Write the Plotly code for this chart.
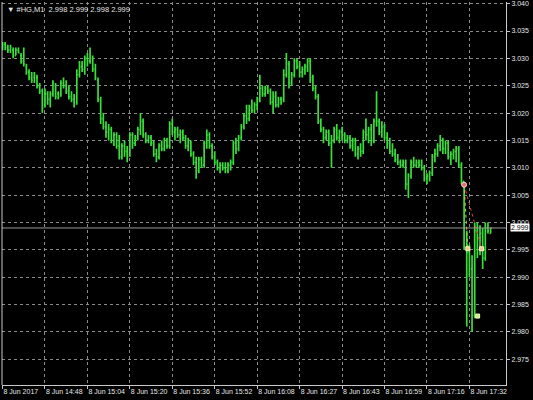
import plotly.graph_objects as go

# ---------------- data ----------------
symbol_header = "\u25bc #HG,M1  2.998 2.999 2.998 2.999"

opens = [3.0320,3.0325,3.0320,3.0315,3.0315,3.0305,3.0315,3.0305,3.0295,3.0285,
         3.0275,3.0265,3.0265,3.0265,3.0250,3.0240,3.0215,3.0235,3.0225,3.0235,
         3.0250,3.0235,3.0235,3.0255,3.0250,3.0240,3.0230,3.0225,3.0220,3.0270,
         3.0285,3.0280,3.0300,3.0295,3.0300,3.0280,3.0260,3.0225,3.0190,3.0175,
         3.0165,3.0170,3.0150,3.0160,3.0140,3.0120,3.0140,3.0130,3.0125,3.0160,
         3.0145,3.0155,3.0170,3.0185,3.0160,3.0150,3.0155,3.0145,3.0125,3.0120,
         3.0140,3.0135,3.0150,3.0140,3.0180,3.0165,3.0170,3.0160,3.0165,3.0155,
         3.0140,3.0145,3.0125,3.0110,3.0095,3.0115,3.0105,3.0145,3.0160,3.0140,
         3.0120,3.0110,3.0100,3.0105,3.0100,3.0095,3.0105,3.0110,3.0145,3.0135,
         3.0155,3.0175,3.0195,3.0190,3.0210,3.0205,3.0215,3.0225,3.0245,3.0235,
         3.0245,3.0240,3.0220,3.0230,3.0215,3.0225,3.0225,3.0270,3.0290,3.0255,
         3.0270,3.0295,3.0285,3.0275,3.0280,3.0285,3.0295,3.0265,3.0245,3.0230,
         3.0185,3.0170,3.0155,3.0165,3.0145,3.0150,3.0170,3.0155,3.0165,3.0160,
         3.0150,3.0155,3.0140,3.0150,3.0125,3.0135,3.0130,3.0165,3.0160,3.0170,
         3.0150,3.0185,3.0185,3.0165,3.0175,3.0155,3.0145,3.0130,3.0125,3.0115,
         3.0110,3.0105,3.0110,3.0070,3.0085,3.0110,3.0105,3.0110,3.0105,3.0100,
         3.0080,3.0085,3.0090,3.0120,3.0125,3.0140,3.0150,3.0135,3.0145,3.0120,
         3.0125,3.0130,3.0135,3.0105,3.0075,2.9955,2.9945,2.9915,2.9830,2.9985,
         2.9950,2.9980,2.9935,2.9990,2.9980]

highs = [3.0330,3.0330,3.0325,3.0325,3.0320,3.0320,3.0320,3.0310,3.0320,3.0290,
         3.0280,3.0275,3.0275,3.0270,3.0255,3.0245,3.0245,3.0240,3.0240,3.0260,
         3.0255,3.0240,3.0260,3.0265,3.0260,3.0250,3.0240,3.0235,3.0280,3.0295,
         3.0295,3.0305,3.0310,3.0320,3.0305,3.0290,3.0265,3.0230,3.0200,3.0185,
         3.0180,3.0175,3.0165,3.0165,3.0160,3.0145,3.0150,3.0140,3.0165,3.0165,
         3.0160,3.0175,3.0200,3.0190,3.0165,3.0160,3.0160,3.0150,3.0135,3.0145,
         3.0150,3.0155,3.0155,3.0185,3.0190,3.0175,3.0175,3.0170,3.0170,3.0160,
         3.0155,3.0150,3.0130,3.0120,3.0120,3.0120,3.0150,3.0170,3.0165,3.0145,
         3.0130,3.0115,3.0110,3.0110,3.0110,3.0110,3.0115,3.0150,3.0155,3.0160,
         3.0180,3.0200,3.0215,3.0215,3.0225,3.0220,3.0230,3.0270,3.0250,3.0250,
         3.0250,3.0245,3.0240,3.0240,3.0230,3.0230,3.0280,3.0310,3.0295,3.0275,
         3.0300,3.0300,3.0295,3.0285,3.0290,3.0300,3.0300,3.0270,3.0250,3.0235,
         3.0190,3.0175,3.0170,3.0170,3.0160,3.0175,3.0180,3.0170,3.0175,3.0165,
         3.0160,3.0160,3.0155,3.0155,3.0140,3.0145,3.0170,3.0190,3.0175,3.0180,
         3.0190,3.0240,3.0190,3.0185,3.0180,3.0165,3.0155,3.0145,3.0135,3.0125,
         3.0115,3.0115,3.0115,3.0090,3.0115,3.0120,3.0115,3.0115,3.0115,3.0105,
         3.0090,3.0095,3.0125,3.0135,3.0145,3.0160,3.0155,3.0150,3.0150,3.0130,
         3.0135,3.0140,3.0140,3.0110,3.0075,2.9985,2.9960,2.9940,3.0000,3.0000,
         2.9995,2.9990,3.0000,3.0000,2.9990]

lows = [3.0315,3.0315,3.0310,3.0310,3.0300,3.0305,3.0310,3.0290,3.0285,3.0270,
        3.0260,3.0255,3.0255,3.0245,3.0235,3.0200,3.0210,3.0215,3.0210,3.0230,
        3.0225,3.0225,3.0230,3.0245,3.0235,3.0225,3.0220,3.0210,3.0215,3.0265,
        3.0275,3.0270,3.0285,3.0290,3.0275,3.0260,3.0220,3.0180,3.0170,3.0155,
        3.0150,3.0145,3.0140,3.0135,3.0115,3.0115,3.0120,3.0110,3.0120,3.0135,
        3.0140,3.0150,3.0160,3.0155,3.0145,3.0145,3.0140,3.0120,3.0110,3.0115,
        3.0130,3.0130,3.0135,3.0135,3.0160,3.0150,3.0155,3.0145,3.0150,3.0135,
        3.0130,3.0120,3.0105,3.0080,3.0090,3.0100,3.0100,3.0135,3.0135,3.0115,
        3.0105,3.0095,3.0090,3.0095,3.0090,3.0090,3.0095,3.0105,3.0125,3.0130,
        3.0150,3.0170,3.0180,3.0185,3.0200,3.0200,3.0205,3.0220,3.0230,3.0230,
        3.0235,3.0215,3.0200,3.0210,3.0210,3.0215,3.0220,3.0265,3.0245,3.0250,
        3.0265,3.0280,3.0265,3.0265,3.0270,3.0275,3.0255,3.0240,3.0225,3.0180,
        3.0165,3.0145,3.0150,3.0140,3.0100,3.0145,3.0150,3.0145,3.0150,3.0145,
        3.0145,3.0135,3.0130,3.0120,3.0115,3.0120,3.0125,3.0150,3.0145,3.0140,
        3.0145,3.0175,3.0160,3.0155,3.0150,3.0135,3.0125,3.0120,3.0110,3.0105,
        3.0100,3.0100,3.0060,3.0045,3.0080,3.0100,3.0100,3.0100,3.0095,3.0075,
        3.0070,3.0075,3.0085,3.0110,3.0120,3.0130,3.0125,3.0125,3.0115,3.0105,
        3.0115,3.0110,3.0100,3.0070,2.9950,2.9810,2.9900,2.9800,2.9825,2.9935,
        2.9940,2.9915,2.9930,2.9980,2.9980]

closes = [3.0325,3.0320,3.0315,3.0320,3.0305,3.0315,3.0310,3.0295,3.0290,3.0275,
          3.0265,3.0260,3.0270,3.0250,3.0240,3.0210,3.0235,3.0225,3.0235,3.0255,
          3.0230,3.0230,3.0255,3.0250,3.0240,3.0230,3.0225,3.0215,3.0270,3.0285,
          3.0280,3.0300,3.0295,3.0305,3.0280,3.0265,3.0225,3.0190,3.0175,3.0165,
          3.0170,3.0150,3.0160,3.0140,3.0120,3.0140,3.0130,3.0120,3.0160,3.0145,
          3.0155,3.0170,3.0185,3.0160,3.0150,3.0155,3.0145,3.0125,3.0120,3.0140,
          3.0135,3.0150,3.0140,3.0180,3.0165,3.0170,3.0160,3.0165,3.0155,3.0140,
          3.0150,3.0125,3.0110,3.0095,3.0115,3.0105,3.0145,3.0160,3.0140,3.0120,
          3.0110,3.0100,3.0105,3.0100,3.0095,3.0105,3.0110,3.0145,3.0135,3.0155,
          3.0175,3.0195,3.0190,3.0210,3.0205,3.0215,3.0225,3.0245,3.0235,3.0245,
          3.0240,3.0220,3.0230,3.0215,3.0225,3.0220,3.0270,3.0290,3.0255,3.0270,
          3.0295,3.0285,3.0275,3.0280,3.0285,3.0295,3.0265,3.0245,3.0230,3.0185,
          3.0170,3.0155,3.0165,3.0145,3.0150,3.0170,3.0155,3.0165,3.0160,3.0150,
          3.0155,3.0140,3.0150,3.0125,3.0135,3.0130,3.0165,3.0160,3.0170,3.0150,
          3.0185,3.0185,3.0165,3.0175,3.0155,3.0145,3.0130,3.0125,3.0115,3.0110,
          3.0105,3.0110,3.0070,3.0085,3.0110,3.0105,3.0110,3.0105,3.0100,3.0080,
          3.0085,3.0090,3.0120,3.0125,3.0140,3.0150,3.0135,3.0145,3.0120,3.0125,
          3.0130,3.0135,3.0105,3.0075,2.9955,2.9945,2.9915,2.9830,2.9985,2.9950,
          2.9980,2.9935,2.9990,2.9985,2.9990]

bar_index = list(range(len(opens)))

time_labels = ["8 Jun 2017", "8 Jun 14:48", "8 Jun 15:04", "8 Jun 15:20",
               "8 Jun 15:36", "8 Jun 15:52", "8 Jun 16:08", "8 Jun 16:27",
               "8 Jun 16:43", "8 Jun 16:59", "8 Jun 17:16", "8 Jun 17:32"]
time_label_bars = [0, 16, 32, 48, 64, 80, 96, 112, 128, 144, 160, 176]

price_ticks = [2.975, 2.980, 2.985, 2.990, 2.995, 3.000, 3.005,
               3.010, 3.015, 3.020, 3.025, 3.030, 3.035, 3.040]

bid_price = 2.999

# trade arrows (open / close points)
trade_open_bar = [174]
trade_open_price = [3.0069]
trade_close_bars = [175.4, 180.6]
trade_close_prices = [2.9952, 2.9952]
trade_tp_bar = [179.1]
trade_tp_price = [2.9829]

# ---------------- figure ----------------
FG = "#e6e6e6"
GRID = "#8a8a8a"
BAR = "#3cdc3c"

fig = go.Figure()

fig.add_trace(go.Ohlc(
    x=bar_index, open=opens, high=highs, low=lows, close=closes,
    increasing=dict(line=dict(color=BAR, width=1.7)),
    decreasing=dict(line=dict(color=BAR, width=1.7)),
    tickwidth=0.4, hoverinfo="skip", showlegend=False,
))

# trade connecting lines
fig.add_trace(go.Scatter(
    x=[trade_open_bar[0], trade_close_bars[1]],
    y=[trade_open_price[0], trade_close_prices[1]],
    mode="lines", line=dict(color="#d04040", width=1, dash="dot"),
    hoverinfo="skip", showlegend=False))
fig.add_trace(go.Scatter(
    x=[trade_open_bar[0], trade_close_bars[0]],
    y=[trade_open_price[0], trade_close_prices[0]],
    mode="lines", line=dict(color="#d8c060", width=1, dash="dot"),
    hoverinfo="skip", showlegend=False))

fig.add_trace(go.Scatter(
    x=trade_open_bar, y=trade_open_price, mode="markers",
    marker=dict(symbol="circle", size=5, color="#e07070",
                line=dict(color="#ffd0d0", width=1)),
    hoverinfo="skip", showlegend=False))
fig.add_trace(go.Scatter(
    x=trade_close_bars, y=trade_close_prices, mode="markers",
    marker=dict(symbol="square", size=4, color="#e8c890",
                line=dict(color="#fff0c0", width=1)),
    hoverinfo="skip", showlegend=False))
fig.add_trace(go.Scatter(
    x=trade_tp_bar, y=trade_tp_price, mode="markers",
    marker=dict(symbol="square", size=4, color="#d8e890",
                line=dict(color="#f0ffc0", width=1)),
    hoverinfo="skip", showlegend=False))

fig.update_layout(
    width=533, height=400, autosize=False,
    margin=dict(l=2, r=27, t=2, b=15, autoexpand=False),
    paper_bgcolor="#000000", plot_bgcolor="#000000",
    font=dict(family="Liberation Sans, Arial, sans-serif", size=7, color=FG),
    showlegend=False,
    shapes=[
        dict(type="line", xref="paper", yref="y", x0=0, x1=1,
             y0=bid_price, y1=bid_price,
             line=dict(color="#9a9a9a", width=1), layer="above"),
        dict(type="line", xref="paper", yref="paper", x0=0, x1=0, y0=0, y1=1,
             line=dict(color="#c8c8c8", width=1)),
    ],
    annotations=[
        dict(xref="paper", yref="paper", x=0.0, y=1.0, xanchor="left",
             yanchor="top", xshift=3, yshift=-1, showarrow=False,
             text=symbol_header, font=dict(size=7.5, color=FG)),
        dict(xref="paper", yref="y", x=1.0, y=bid_price, xanchor="left",
             yanchor="middle", xshift=4, showarrow=False,
             text=f"{bid_price:.3f}", bgcolor="#ffffff", borderpad=0,
             font=dict(size=7, color="#000000")),
    ],
)

fig.update_xaxes(
    type="linear", range=[-0.2, 189.8],
    rangeslider=dict(visible=False),
    tickmode="array", tickvals=time_label_bars, ticktext=time_labels,
    ticklabelposition="outside right", tickangle=0, automargin=False,
    ticks="outside", ticklen=3, tickcolor="#c8c8c8",
    showline=True, linecolor="#c8c8c8", linewidth=1,
    showgrid=True, gridcolor=GRID, gridwidth=1, griddash="3px,3px",
    zeroline=False, tickfont=dict(size=7, color=FG),
)
fig.update_yaxes(
    side="right", range=[2.9703, 3.0403], automargin=False,
    tickmode="array", tickvals=price_ticks,
    ticktext=[f"{v:.3f}" for v in price_ticks],
    ticks="outside", ticklen=3, tickcolor="#c8c8c8",
    showline=True, linecolor="#c8c8c8", linewidth=1,
    showgrid=True, gridcolor=GRID, gridwidth=1, griddash="3px,3px",
    zeroline=False, tickfont=dict(size=7, color=FG),
)

fig.write_html(
    "out.html",
    config={"displayModeBar": False},
    post_script="document.body.style.margin='0';document.body.style.padding='0';"
                "document.body.style.overflow='hidden';",
)
